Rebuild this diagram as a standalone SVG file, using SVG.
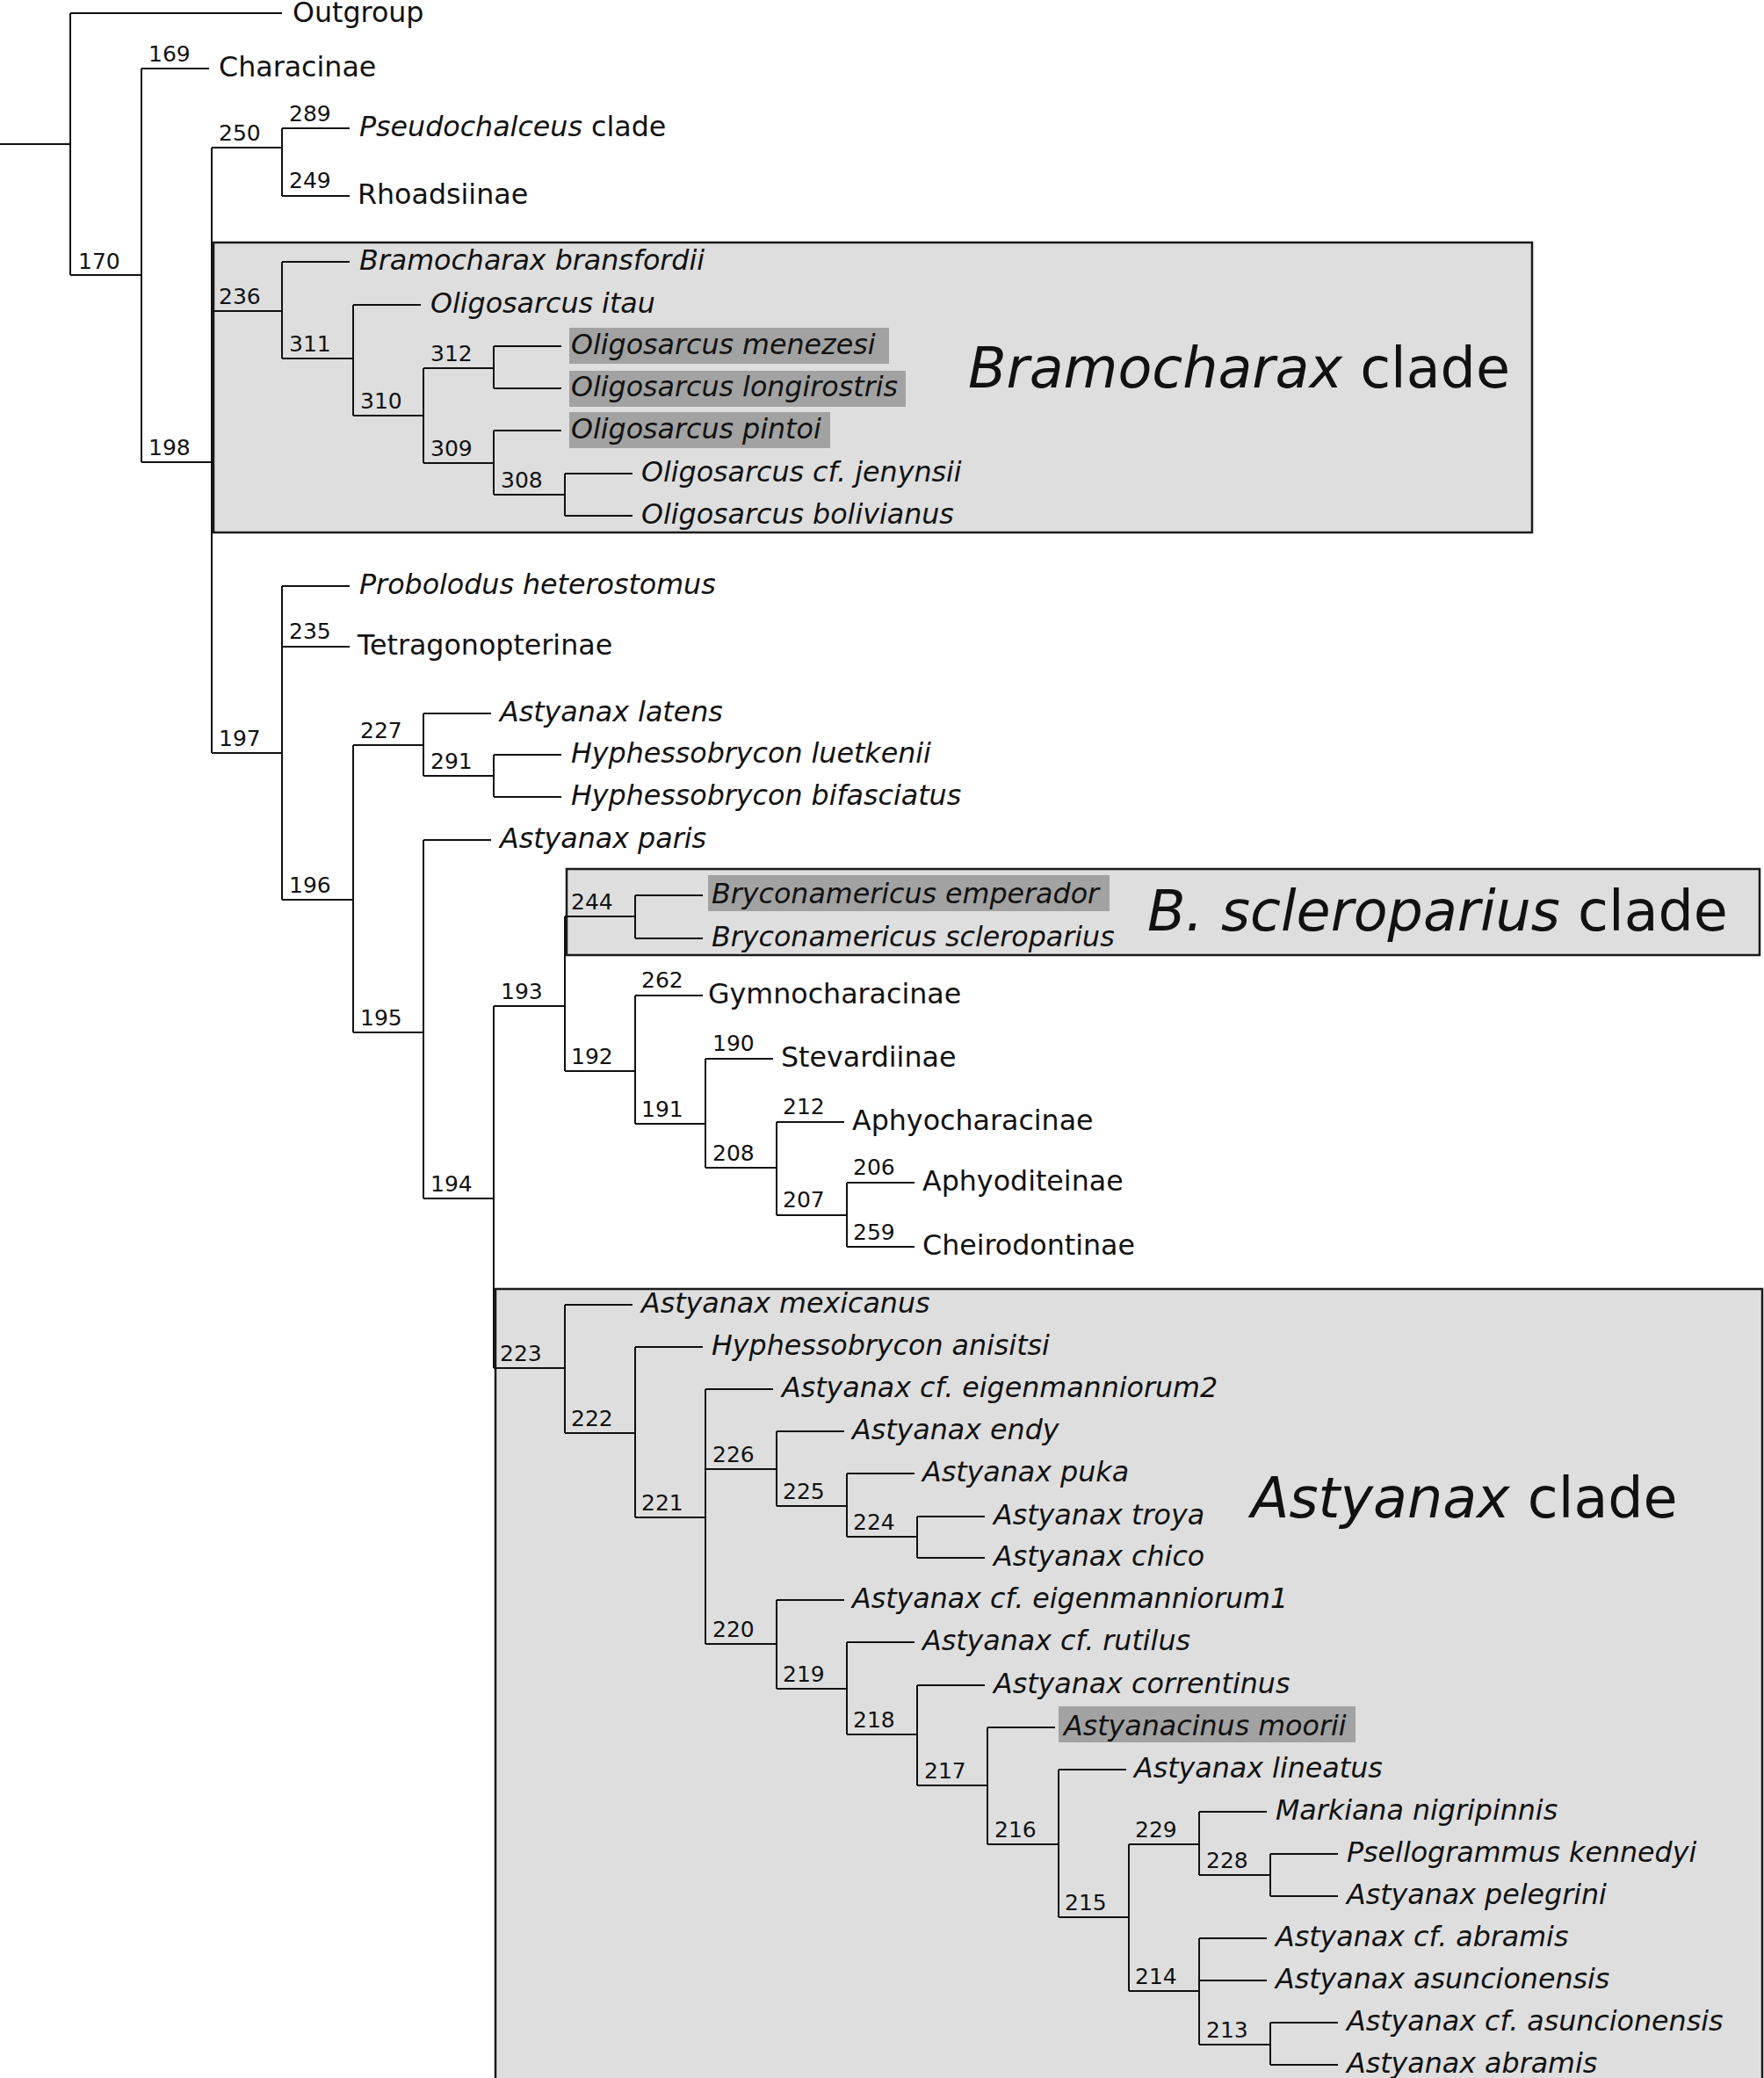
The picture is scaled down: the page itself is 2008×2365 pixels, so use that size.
<svg xmlns="http://www.w3.org/2000/svg" width="2008" height="2365" viewBox="0 0 2008 2365">
<style>
.bg{fill:#fff}
.box{fill:#dedede;stroke:#1a1a1a;stroke-width:2.5}
.hl{fill:#a2a2a2;stroke:none}
.br{stroke:#111;stroke-width:2;fill:none}
text{font-family:"DejaVu Sans",Verdana,sans-serif;fill:#111}
.t{font-size:31.7px}
.n{font-size:25px}
.c{font-size:63.5px}
.i{font-style:italic}
</style>
<rect class="bg" x="0" y="0" width="2008" height="2365"/>
<g id="clade-bramocharax"><rect class="box" x="243" y="276" width="1501" height="330"/><text class="c" x="1102" y="441"><tspan class="i">Bramocharax</tspan> clade</text></g>
<g id="clade-scleroparius"><rect class="box" x="645" y="989" width="1358" height="98"/><text class="c" x="1306" y="1059"><tspan class="i">B. scleroparius</tspan> clade</text></g>
<g id="clade-astyanax"><rect class="box" x="564" y="1467" width="1442" height="1895"/><text class="c" x="1424" y="1727"><tspan class="i">Astyanax</tspan> clade</text></g>
<g id="highlights">
<rect class="hl" x="648" y="373" width="364" height="41"/>
<rect class="hl" x="648" y="422" width="383" height="41"/>
<rect class="hl" x="648" y="469" width="297" height="41"/>
<rect class="hl" x="806" y="996" width="457" height="41"/>
<rect class="hl" x="1205" y="1942" width="338" height="41"/>
</g>
<g id="connectors">
<path class="br" d="M0 164H80M80 15V313M80 15H321M80 313H161M161 78V526M161 78H238M161 526H241M241 168V857"/>
<path class="br" d="M241 168H321M321 146V223M321 146H398M321 223H398"/>
<path class="br" d="M241 354H321M321 298V408M321 298H398M321 408H402M402 347V473M402 347H479M402 473H482M482 419V527M482 419H562M562 394V442M562 394H639M562 442H639M482 527H562M562 490V563M562 490H639M562 563H643M643 539V587M643 539H720M643 587H720"/>
<path class="br" d="M241 857H321M321 667V1024M321 667H398M321 736H398M321 1024H402M402 848V1175M402 848H482M482 812V883M482 812H559M482 883H562M562 859V907M562 859H639M562 907H639"/>
<path class="br" d="M402 1175H482M482 956V1364M482 956H559M482 1364H562M562 1145V1557M562 1145H643M643 1043V1219M643 1043H723M723 1019V1068M723 1019H800M723 1068H800M643 1219H723M723 1133V1279M723 1133H800M723 1279H803M803 1205V1329M803 1205H880M803 1329H884M884 1277V1383M884 1277H961M884 1383H964M964 1346V1419M964 1346H1041M964 1419H1041"/>
<path class="br" d="M562 1557H643M643 1485V1631M643 1485H720M643 1631H723M723 1533V1727M723 1533H800M723 1727H803M803 1581V1871M803 1581H880M803 1672H884M884 1629V1714M884 1629H961M884 1714H964M964 1677V1749M964 1677H1041M964 1749H1044M1044 1726V1773M1044 1726H1121M1044 1773H1121"/>
<path class="br" d="M803 1871H884M884 1821V1922M884 1821H961M884 1922H964M964 1869V1974M964 1869H1041M964 1974H1044M1044 1918V2032M1044 1918H1121M1044 2032H1124M1124 1966V2099M1124 1966H1201M1124 2099H1205M1205 2014V2182M1205 2014H1282M1205 2182H1285M1285 2099V2266M1285 2099H1365M1365 2062V2134M1365 2062H1442M1365 2134H1446M1446 2110V2158M1446 2110H1523M1446 2158H1523M1285 2266H1365M1365 2206V2327M1365 2206H1442M1365 2254H1442M1365 2327H1446M1446 2302V2350M1446 2302H1523M1446 2350H1523"/>
</g>
<g id="leaves" class="t">
<g id="leaf-outgroup"><text class="t" x="333" y="25">Outgroup</text></g>
<g id="leaf-characinae"><text class="t" x="249" y="87">Characinae</text></g>
<g id="leaf-pseudochalceus"><text class="t" x="409" y="155"><tspan class="i">Pseudochalceus</tspan> clade</text></g>
<g id="leaf-rhoadsiinae"><text class="t" x="407" y="232">Rhoadsiinae</text></g>
<g id="leaf-bransfordii"><text class="t i" x="409" y="307">Bramocharax bransfordii</text></g>
<g id="leaf-itau"><text class="t i" x="490" y="356">Oligosarcus itau</text></g>
<g id="leaf-menezesi"><text class="t i" x="650" y="403">Oligosarcus menezesi</text></g>
<g id="leaf-longirostris"><text class="t i" x="650" y="451">Oligosarcus longirostris</text></g>
<g id="leaf-pintoi"><text class="t i" x="650" y="499">Oligosarcus pintoi</text></g>
<g id="leaf-jenynsii"><text class="t i" x="730" y="548">Oligosarcus cf. jenynsii</text></g>
<g id="leaf-bolivianus"><text class="t i" x="730" y="596">Oligosarcus bolivianus</text></g>
<g id="leaf-probolodus"><text class="t i" x="409" y="676">Probolodus heterostomus</text></g>
<g id="leaf-tetragonopterinae"><text class="t" x="407" y="745">Tetragonopterinae</text></g>
<g id="leaf-latens"><text class="t i" x="569" y="821">Astyanax latens</text></g>
<g id="leaf-luetkenii"><text class="t i" x="650" y="868">Hyphessobrycon luetkenii</text></g>
<g id="leaf-bifasciatus"><text class="t i" x="650" y="916">Hyphessobrycon bifasciatus</text></g>
<g id="leaf-paris"><text class="t i" x="569" y="965">Astyanax paris</text></g>
<g id="leaf-emperador"><text class="t i" x="810" y="1028">Bryconamericus emperador</text></g>
<g id="leaf-scleroparius"><text class="t i" x="810" y="1077">Bryconamericus scleroparius</text></g>
<g id="leaf-gymnocharacinae"><text class="t" x="806" y="1142">Gymnocharacinae</text></g>
<g id="leaf-stevardiinae"><text class="t" x="889" y="1214">Stevardiinae</text></g>
<g id="leaf-aphyocharacinae"><text class="t" x="970" y="1286">Aphyocharacinae</text></g>
<g id="leaf-aphyoditeinae"><text class="t" x="1050" y="1355">Aphyoditeinae</text></g>
<g id="leaf-cheirodontinae"><text class="t" x="1050" y="1428">Cheirodontinae</text></g>
<g id="leaf-mexicanus"><text class="t i" x="730" y="1494">Astyanax mexicanus</text></g>
<g id="leaf-anisitsi"><text class="t i" x="810" y="1542">Hyphessobrycon anisitsi</text></g>
<g id="leaf-eigenmanniorum2"><text class="t i" x="890" y="1590">Astyanax cf. eigenmanniorum2</text></g>
<g id="leaf-endy"><text class="t i" x="970" y="1638">Astyanax endy</text></g>
<g id="leaf-puka"><text class="t i" x="1050" y="1686">Astyanax puka</text></g>
<g id="leaf-troya"><text class="t i" x="1131" y="1735">Astyanax troya</text></g>
<g id="leaf-chico"><text class="t i" x="1131" y="1782">Astyanax chico</text></g>
<g id="leaf-eigenmanniorum1"><text class="t i" x="970" y="1830">Astyanax cf. eigenmanniorum1</text></g>
<g id="leaf-rutilus"><text class="t i" x="1050" y="1878">Astyanax cf. rutilus</text></g>
<g id="leaf-correntinus"><text class="t i" x="1131" y="1927">Astyanax correntinus</text></g>
<g id="leaf-moorii"><text class="t i" x="1211" y="1975">Astyanacinus moorii</text></g>
<g id="leaf-lineatus"><text class="t i" x="1291" y="2023">Astyanax lineatus</text></g>
<g id="leaf-markiana"><text class="t i" x="1452" y="2071">Markiana nigripinnis</text></g>
<g id="leaf-kennedyi"><text class="t i" x="1533" y="2119">Psellogrammus kennedyi</text></g>
<g id="leaf-pelegrini"><text class="t i" x="1533" y="2167">Astyanax pelegrini</text></g>
<g id="leaf-cfabramis"><text class="t i" x="1452" y="2215">Astyanax cf. abramis</text></g>
<g id="leaf-asuncionensis"><text class="t i" x="1452" y="2263">Astyanax asuncionensis</text></g>
<g id="leaf-cfasuncionensis"><text class="t i" x="1533" y="2311">Astyanax cf. asuncionensis</text></g>
<g id="leaf-abramis"><text class="t i" x="1533" y="2359">Astyanax abramis</text></g>
</g>
<g id="nodes" class="n">
<g id="node-169"><text class="n" x="169" y="70">169</text></g>
<g id="node-170"><text class="n" x="89" y="306">170</text></g>
<g id="node-250"><text class="n" x="249" y="160">250</text></g>
<g id="node-289"><text class="n" x="329" y="138">289</text></g>
<g id="node-249"><text class="n" x="329" y="214">249</text></g>
<g id="node-198"><text class="n" x="169" y="518">198</text></g>
<g id="node-236"><text class="n" x="249" y="346">236</text></g>
<g id="node-311"><text class="n" x="329" y="400">311</text></g>
<g id="node-310"><text class="n" x="410" y="465">310</text></g>
<g id="node-312"><text class="n" x="490" y="411">312</text></g>
<g id="node-309"><text class="n" x="490" y="519">309</text></g>
<g id="node-308"><text class="n" x="570" y="555">308</text></g>
<g id="node-197"><text class="n" x="249" y="849">197</text></g>
<g id="node-235"><text class="n" x="329" y="727">235</text></g>
<g id="node-196"><text class="n" x="329" y="1016">196</text></g>
<g id="node-227"><text class="n" x="410" y="840">227</text></g>
<g id="node-291"><text class="n" x="490" y="875">291</text></g>
<g id="node-195"><text class="n" x="410" y="1167">195</text></g>
<g id="node-194"><text class="n" x="490" y="1356">194</text></g>
<g id="node-193"><text class="n" x="570" y="1137">193</text></g>
<g id="node-244"><text class="n" x="650" y="1035">244</text></g>
<g id="node-192"><text class="n" x="650" y="1211">192</text></g>
<g id="node-262"><text class="n" x="730" y="1124">262</text></g>
<g id="node-191"><text class="n" x="730" y="1271">191</text></g>
<g id="node-190"><text class="n" x="811" y="1196">190</text></g>
<g id="node-208"><text class="n" x="811" y="1321">208</text></g>
<g id="node-212"><text class="n" x="891" y="1268">212</text></g>
<g id="node-207"><text class="n" x="891" y="1374">207</text></g>
<g id="node-206"><text class="n" x="971" y="1337">206</text></g>
<g id="node-259"><text class="n" x="971" y="1411">259</text></g>
<g id="node-223"><text class="n" x="569" y="1549">223</text></g>
<g id="node-222"><text class="n" x="650" y="1623">222</text></g>
<g id="node-221"><text class="n" x="730" y="1719">221</text></g>
<g id="node-226"><text class="n" x="811" y="1664">226</text></g>
<g id="node-225"><text class="n" x="891" y="1706">225</text></g>
<g id="node-224"><text class="n" x="971" y="1741">224</text></g>
<g id="node-220"><text class="n" x="811" y="1863">220</text></g>
<g id="node-219"><text class="n" x="891" y="1914">219</text></g>
<g id="node-218"><text class="n" x="971" y="1966">218</text></g>
<g id="node-217"><text class="n" x="1052" y="2024">217</text></g>
<g id="node-216"><text class="n" x="1132" y="2091">216</text></g>
<g id="node-215"><text class="n" x="1212" y="2174">215</text></g>
<g id="node-229"><text class="n" x="1292" y="2091">229</text></g>
<g id="node-228"><text class="n" x="1373" y="2126">228</text></g>
<g id="node-214"><text class="n" x="1292" y="2258">214</text></g>
<g id="node-213"><text class="n" x="1373" y="2319">213</text></g>
</g>
</svg>
